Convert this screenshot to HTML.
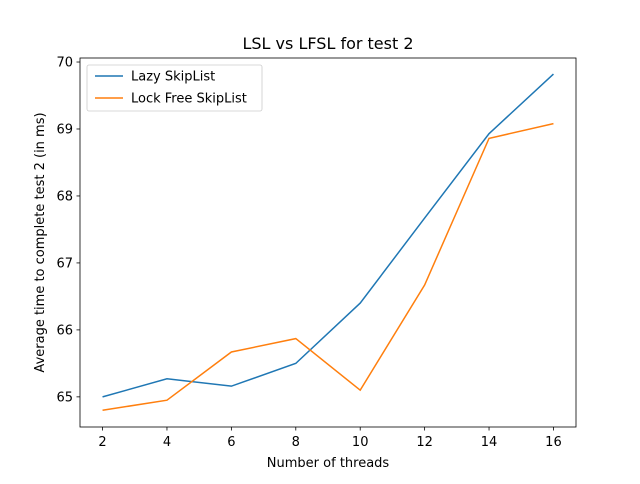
<!DOCTYPE html>
<html><head><meta charset="utf-8"><style>
body{margin:0;background:#fff;font-family:"DejaVu Sans","Liberation Sans",sans-serif;}
svg text{font-family:"DejaVu Sans","Liberation Sans",sans-serif;}
</style></head><body>
<svg id="chart" width="640" height="480" xmlns="http://www.w3.org/2000/svg">
<rect width="640" height="480" fill="#fff"/>
<g id="plot"></g>
</svg>
<script>
const xValues=[2,4,6,8,10,12,14,16];
const lazySeries=[65.0,65.27,65.16,65.5,66.4,67.67,68.93,69.82];
const lockFreeSeries=[64.8,64.95,65.67,65.87,65.1,66.67,68.86,69.08];
const xTicks=[2,4,6,8,10,12,14,16];
const yTicks=[65,66,67,68,69,70];
const L=80,R=576,T=58,B=427;
const xMin=1.3,xMax=16.7,yMin=64.55,yMax=70.06;
const sx=v=>L+(v-xMin)/(xMax-xMin)*(R-L);
const sy=v=>B-(v-yMin)/(yMax-yMin)*(B-T);
const ns='http://www.w3.org/2000/svg';
const g=document.getElementById('plot');
function mk(t,a,txt){const e=document.createElementNS(ns,t);for(const k in a)e.setAttribute(k,a[k]);if(txt!==undefined)e.textContent=txt;g.appendChild(e);return e;}
function line(vals,color,name){
 const p=mk('polyline',{points:vals.map((v,i)=>sx(xValues[i])+','+sy(v)).join(' '),fill:'none',stroke:color,'stroke-width':1.5});
 
 
}
line(lazySeries,'#1f77b4','lazy-skiplist-line');
line(lockFreeSeries,'#ff7f0e','lock-free-skiplist-line');
const fr=mk('rect',{x:L,y:T,width:R-L,height:B-T,fill:'none',stroke:'#000','stroke-width':0.8});


xTicks.forEach(v=>{const x=sx(v);mk('line',{x1:x,x2:x,y1:B,y2:B+3.5,stroke:'#000','stroke-width':0.8});
 const t=mk('text',{x:x,y:B+19,'text-anchor':'middle','font-size':13},v);
 
 });
yTicks.forEach(v=>{const y=sy(v);mk('line',{x1:L-3.5,x2:L,y1:y,y2:y,stroke:'#000','stroke-width':0.8});
 const t=mk('text',{x:L-7,y:y+4.5,'text-anchor':'end','font-size':13},v);
 
 });
let t=mk('text',{x:(L+R)/2,y:49,'text-anchor':'middle','font-size':16},'LSL vs LFSL for test 2');


t=mk('text',{x:(L+R)/2,y:467,'text-anchor':'middle','font-size':13},'Number of threads');


t=mk('text',{x:0,y:0,'text-anchor':'middle','font-size':13,transform:'translate(44,'+((T+B)/2)+') rotate(-90)'},'Average time to complete test 2 (in ms)');


const lg=mk('rect',{x:87,y:65,width:175,height:46,fill:'#fff',stroke:'#ccc','stroke-width':0.8,rx:2});


[['Lazy SkipList','#1f77b4',76],['Lock Free SkipList','#ff7f0e',98]].forEach(([n,c,y])=>{
 mk('line',{x1:95,x2:123,y1:y,y2:y,stroke:c,'stroke-width':1.5});
 const e=mk('text',{x:131,y:y+4.5,'font-size':13},n);
 
 
});
</script>
</body></html>
